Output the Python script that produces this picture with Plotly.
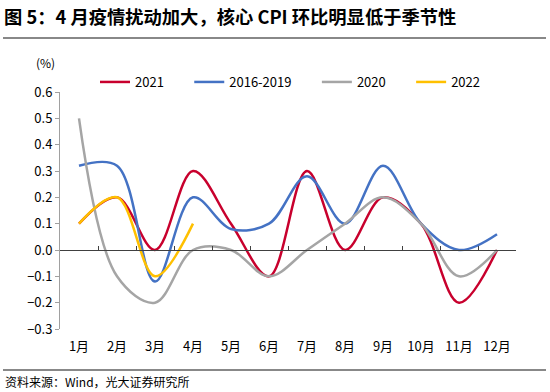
import plotly.graph_objects as go

months = ["1月", "2月", "3月", "4月", "5月", "6月", "7月", "8月", "9月", "10月", "11月", "12月"]
y2021 = [0.1, 0.2, 0.0, 0.3, 0.1, -0.1, 0.3, 0.0, 0.2, 0.1, -0.2, 0.0]
y1619 = [0.32, 0.32, -0.12, 0.2, 0.08, 0.1, 0.28, 0.1, 0.32, 0.1, 0.0, 0.06]
y2020 = [0.5, -0.1, -0.2, 0.0, 0.0, -0.1, 0.0, 0.1, 0.2, 0.1, -0.1, 0.0]
y2022 = [0.1, 0.2, -0.1, 0.1]
yticks = [0.6, 0.5, 0.4, 0.3, 0.2, 0.1, 0.0, -0.1, -0.2, -0.3]

xpos = list(range(1, 13))
FONT = "Noto Sans CJK SC"
PAD = "\u00a0" * 7

series = [
    ("2021", y2021, "#C8002D"),
    ("2016-2019", y1619, "#4472C4"),
    ("2020", y2020, "#A5A5A5"),
    ("2022", y2022, "#FFC000"),
]

fig = go.Figure()
for i, (name, vals, col) in enumerate(series):
    label = name + (PAD if i < len(series) - 1 else "")
    fig.add_trace(go.Scatter(
        x=xpos[:len(vals)], y=vals, name=label, mode="lines",
        line=dict(color=col, width=2.5, shape="spline", smoothing=1.0),
        hoverinfo="skip",
    ))
# invisible trace to host the zero-line tick axis
fig.add_trace(go.Scatter(x=[1, 12], y=[0, 0], xaxis="x2", mode="lines",
                         line=dict(width=0), showlegend=False, hoverinfo="skip"))

W, H = 550, 392
ml, mr, mt, mb = 60, 34, 92, 63
ymin, ymax = -0.3, 0.6
zero_frac = (0 - ymin) / (ymax - ymin)
pw = W - ml - mr
ph = H - mt - mb

def px_x(p):
    return (p - ml) / pw

def px_y(p):
    return (H - mb - p) / ph

fig.update_layout(
    width=W, height=H,
    margin=dict(l=ml, r=mr, t=mt, b=mb, autoexpand=False),
    paper_bgcolor="white", plot_bgcolor="white",
    font=dict(family=FONT, size=13, color="#000000"),
    showlegend=True,
    legend=dict(orientation="h", x=px_x(95), xanchor="left", y=px_y(82), yanchor="middle",
                font=dict(size=13, family=FONT), itemwidth=30, tracegroupgap=0,
                bgcolor="rgba(0,0,0,0)"),
    xaxis=dict(
        range=[0.5, 12.5], tickmode="array", tickvals=xpos, ticktext=months,
        showline=False, ticks="", showgrid=False, zeroline=False,
        tickfont=dict(size=13, family=FONT), ticklabelstandoff=8,
    ),
    xaxis2=dict(
        range=[0.5, 12.5], overlaying="x", anchor="free", position=zero_frac,
        tickmode="array", tickvals=[x + 0.5 for x in range(0, 13)],
        ticks="inside", ticklen=4, tickcolor="#404040", tickwidth=1,
        showticklabels=False, showline=True, linecolor="#404040", linewidth=1.3,
        showgrid=False, zeroline=False, side="bottom",
    ),
    yaxis=dict(
        range=[ymin, ymax], tickmode="array", tickvals=yticks, tickformat=".1f",
        showline=True, linecolor="#A0A0A0", linewidth=1, ticks="outside",
        ticklen=4, tickcolor="#A0A0A0", showgrid=False, zeroline=False,
        tickfont=dict(size=13, family=FONT),
    ),
)

fig.add_annotation(xref="paper", yref="paper", x=px_x(57), y=px_y(62), xanchor="right",
                   yanchor="middle", text="(%)", showarrow=False,
                   font=dict(size=12, family=FONT))
fig.add_annotation(xref="paper", yref="paper", x=px_x(2), y=px_y(16),
                   xanchor="left", yanchor="middle",
                   text="<b>图 5：4 月疫情扰动加大，核心 CPI 环比明显低于季节性</b>",
                   showarrow=False, font=dict(size=18.3, family=FONT))
fig.add_annotation(xref="paper", yref="paper", x=px_x(3), y=px_y(381),
                   xanchor="left", yanchor="middle",
                   text="资料来源：Wind，光大证券研究所", showarrow=False,
                   font=dict(size=12, family=FONT))

fig.add_shape(type="line", xref="paper", yref="paper", x0=px_x(3), x1=px_x(546),
              y0=px_y(38), y1=px_y(38), line=dict(color="#606060", width=1.5))
fig.add_shape(type="line", xref="paper", yref="paper", x0=px_x(3), x1=px_x(546),
              y0=px_y(370), y1=px_y(370), line=dict(color="#606060", width=1.5))

fig.write_html("out.html", config={"displayModeBar": False},
               post_script="document.body.style.margin='0';document.body.style.padding='0';")
